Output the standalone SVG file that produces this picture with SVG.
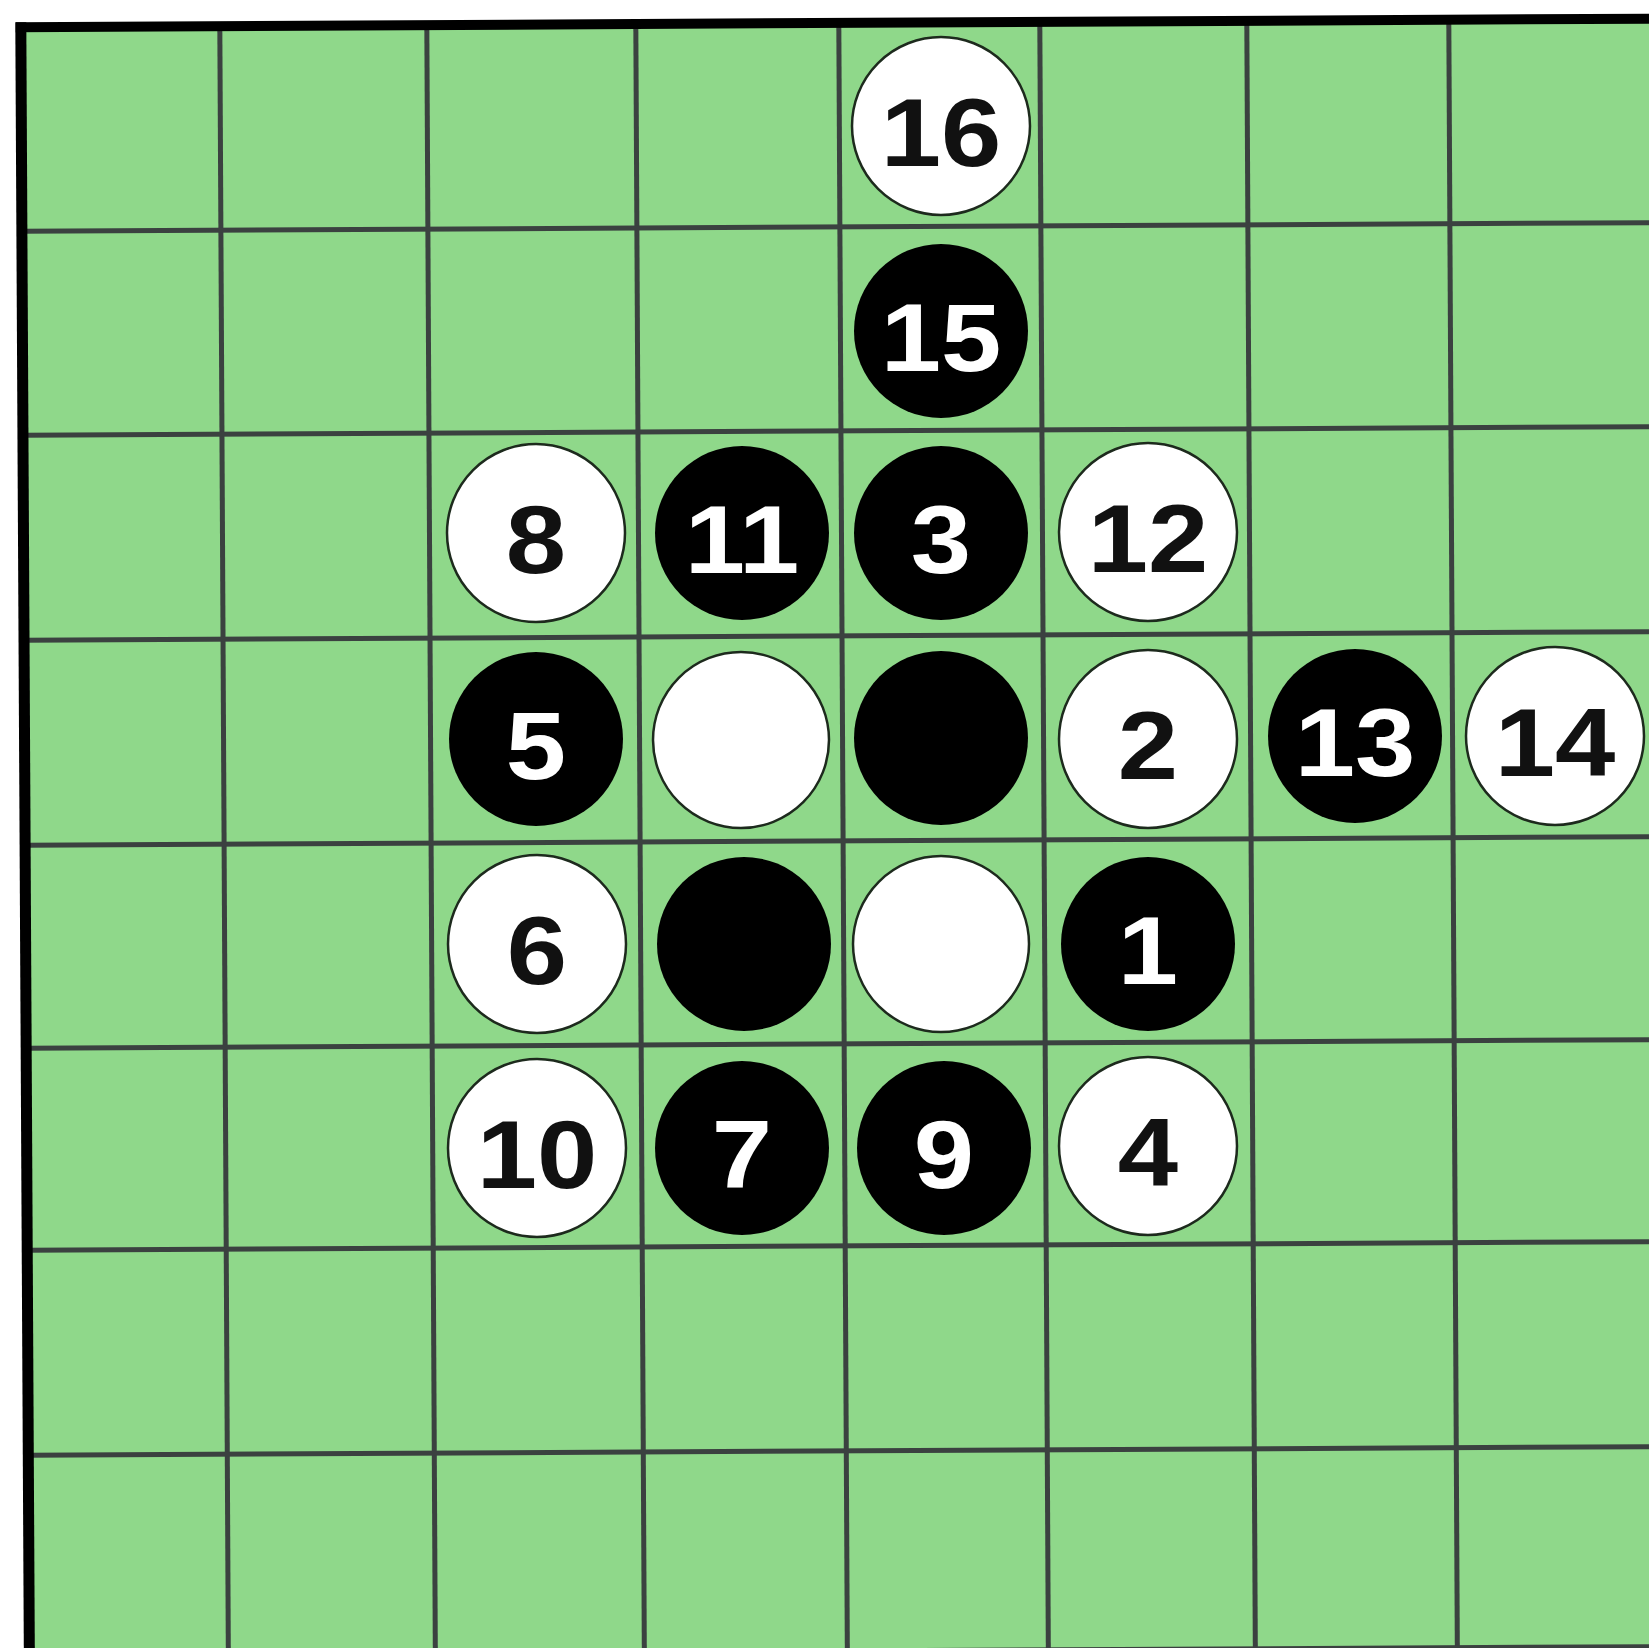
<svg xmlns="http://www.w3.org/2000/svg" width="1649" height="1648" viewBox="0 0 1649 1648">
<style>
.grid line{stroke:#3b4140;stroke-width:5}
.w{fill:#ffffff;stroke:#1d2a1d;stroke-width:2.5}
.b{fill:#000000}
.lw{font-family:"Liberation Sans",Arial,sans-serif;font-weight:bold;font-size:96px;fill:#111;text-anchor:middle}
.lb{font-family:"Liberation Sans",Arial,sans-serif;font-weight:bold;font-size:96px;fill:#fff;text-anchor:middle}
</style>
<rect x="0" y="0" width="1649" height="1648" fill="#ffffff"/>
<g id="board" transform="rotate(-0.3 824 824)">
<rect x="25" y="23" width="1650" height="1660" fill="#8fd88a"/>
<g class="grid">
<line x1="224" y1="23" x2="224" y2="1680"/>
<line x1="431" y1="23" x2="431" y2="1680"/>
<line x1="640" y1="23" x2="640" y2="1680"/>
<line x1="843" y1="23" x2="843" y2="1680"/>
<line x1="1044" y1="23" x2="1044" y2="1680"/>
<line x1="1251" y1="23" x2="1251" y2="1680"/>
<line x1="1453" y1="23" x2="1453" y2="1680"/>
<line x1="25" y1="227" x2="1680" y2="227"/>
<line x1="25" y1="431" x2="1680" y2="431"/>
<line x1="25" y1="636" x2="1680" y2="636"/>
<line x1="25" y1="841" x2="1680" y2="841"/>
<line x1="25" y1="1044" x2="1680" y2="1044"/>
<line x1="25" y1="1246" x2="1680" y2="1246"/>
<line x1="25" y1="1451" x2="1680" y2="1451"/>
<line x1="25" y1="1651" x2="1680" y2="1651"/>
</g>
<line x1="25" y1="18" x2="25" y2="1690" stroke="#000" stroke-width="11"/>
<line x1="20" y1="23" x2="1690" y2="23" stroke="#000" stroke-width="10"/>
</g>
<g id="pieces">
<g id="p16"><circle class="w" cx="941" cy="126" r="89"/><text class="lw" transform="translate(941 166) scale(1.13 1)">16</text></g>
<g id="p15"><circle class="b" cx="941" cy="331" r="87"/><text class="lb" transform="translate(941 371) scale(1.13 1)">15</text></g>
<g id="p8"><circle class="w" cx="536" cy="533" r="89"/><text class="lw" transform="translate(536 573) scale(1.13 1)">8</text></g>
<g id="p11"><circle class="b" cx="742" cy="533" r="87"/><text class="lb" transform="translate(742 573) scale(1.13 1)">11</text></g>
<g id="p3"><circle class="b" cx="941" cy="533" r="87"/><text class="lb" transform="translate(941 573) scale(1.13 1)">3</text></g>
<g id="p12"><circle class="w" cx="1148" cy="532" r="89"/><text class="lw" transform="translate(1148 572) scale(1.13 1)">12</text></g>
<g id="p5"><circle class="b" cx="536" cy="739" r="87"/><text class="lb" transform="translate(536 779) scale(1.13 1)">5</text></g>
<g id="w-d4"><circle class="w" cx="741" cy="740" r="88"/></g>
<g id="b-e4"><circle class="b" cx="941" cy="738" r="87"/></g>
<g id="p2"><circle class="w" cx="1148" cy="739" r="89"/><text class="lw" transform="translate(1148 779) scale(1.13 1)">2</text></g>
<g id="p13"><circle class="b" cx="1355" cy="736" r="87"/><text class="lb" transform="translate(1355 776) scale(1.13 1)">13</text></g>
<g id="p14"><circle class="w" cx="1555" cy="736" r="89"/><text class="lw" transform="translate(1555 776) scale(1.13 1)">14</text></g>
<g id="p6"><circle class="w" cx="537" cy="944" r="89"/><text class="lw" transform="translate(537 984) scale(1.13 1)">6</text></g>
<g id="b-d5"><circle class="b" cx="744" cy="944" r="87"/></g>
<g id="w-e5"><circle class="w" cx="941" cy="944" r="88"/></g>
<g id="p1"><circle class="b" cx="1148" cy="944" r="87"/><text class="lb" transform="translate(1148 984) scale(1.13 1)">1</text></g>
<g id="p10"><circle class="w" cx="537" cy="1148" r="89"/><text class="lw" transform="translate(537 1188) scale(1.13 1)">10</text></g>
<g id="p7"><circle class="b" cx="742" cy="1148" r="87"/><text class="lb" transform="translate(742 1188) scale(1.13 1)">7</text></g>
<g id="p9"><circle class="b" cx="944" cy="1148" r="87"/><text class="lb" transform="translate(944 1188) scale(1.13 1)">9</text></g>
<g id="p4"><circle class="w" cx="1148" cy="1146" r="89"/><text class="lw" transform="translate(1148 1186) scale(1.13 1)">4</text></g>
</g>
</svg>
